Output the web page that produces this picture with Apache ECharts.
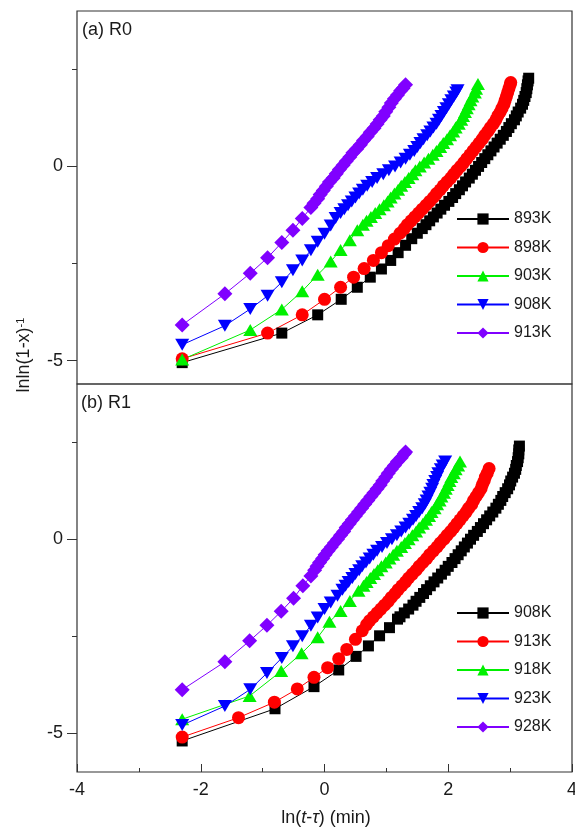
<!DOCTYPE html>
<html>
<head>
<meta charset="utf-8">
<script src="https://cdn.jsdelivr.net/npm/echarts@6/dist/echarts.min.js"></script>
<style>
  html, body { margin: 0; padding: 0; background: #fff; }
  #chart { width: 575px; height: 829px; }
</style>
</head>
<body>
<div id="chart"></div>
<script>
// Avrami-type plots, two panels sharing the x axis: (a) R0 and (b) R1
const R0_NAMES = ['893K', '898K', '903K', '908K', '913K'];
const R1_NAMES = ['908K', '913K', '918K', '923K', '928K'];

// panel (a) R0 — [ln(t-tau), lnln(1-x)^-1]
const R0_893K = [[-2.30,-5.05],[-0.69,-4.29],[-0.11,-3.82],[0.27,-3.42],[0.53,-3.11],[0.74,-2.85],[0.92,-2.64],[1.07,-2.42],[1.19,-2.22],[1.31,-2.03],[1.41,-1.86],[1.50,-1.72],[1.58,-1.60],[1.64,-1.50],[1.70,-1.40],[1.76,-1.30],[1.82,-1.20],[1.88,-1.10],[1.94,-1.00],[2.01,-0.90],[2.07,-0.80],[2.12,-0.70],[2.18,-0.60],[2.23,-0.50],[2.28,-0.40],[2.34,-0.30],[2.39,-0.20],[2.44,-0.10],[2.49,0.00],[2.54,0.10],[2.59,0.20],[2.64,0.30],[2.69,0.40],[2.74,0.50],[2.79,0.60],[2.84,0.70],[2.89,0.80],[2.94,0.90],[2.98,1.00],[3.02,1.10],[3.07,1.20],[3.10,1.30],[3.13,1.40],[3.17,1.50],[3.20,1.60],[3.22,1.70],[3.24,1.80],[3.26,1.90],[3.27,2.00],[3.28,2.10],[3.29,2.20],[3.30,2.27]];
const R0_898K = [[-2.30,-4.95],[-0.92,-4.29],[-0.36,-3.82],[0.00,-3.42],[0.26,-3.11],[0.47,-2.85],[0.64,-2.63],[0.79,-2.42],[0.92,-2.22],[1.03,-2.04],[1.13,-1.87],[1.22,-1.72],[1.29,-1.60],[1.34,-1.50],[1.40,-1.40],[1.46,-1.30],[1.52,-1.20],[1.58,-1.10],[1.64,-1.00],[1.70,-0.90],[1.76,-0.80],[1.81,-0.70],[1.87,-0.60],[1.92,-0.50],[1.98,-0.40],[2.04,-0.30],[2.09,-0.20],[2.14,-0.10],[2.20,0.00],[2.25,0.10],[2.30,0.20],[2.35,0.30],[2.40,0.40],[2.45,0.50],[2.50,0.60],[2.55,0.70],[2.59,0.80],[2.64,0.90],[2.68,1.00],[2.73,1.10],[2.77,1.20],[2.80,1.30],[2.84,1.40],[2.87,1.50],[2.90,1.60],[2.92,1.70],[2.94,1.80],[2.96,1.90],[2.98,2.00],[3.00,2.10],[3.01,2.16]];
const R0_903K = [[-2.30,-4.97],[-1.20,-4.21],[-0.69,-3.68],[-0.36,-3.21],[-0.11,-2.79],[0.10,-2.45],[0.26,-2.15],[0.41,-1.90],[0.53,-1.64],[0.62,-1.50],[0.68,-1.40],[0.75,-1.30],[0.82,-1.20],[0.89,-1.10],[0.96,-1.00],[1.02,-0.90],[1.07,-0.80],[1.13,-0.70],[1.19,-0.60],[1.24,-0.50],[1.30,-0.40],[1.36,-0.30],[1.42,-0.20],[1.47,-0.10],[1.54,0.00],[1.61,0.10],[1.68,0.20],[1.75,0.30],[1.81,0.40],[1.87,0.50],[1.92,0.60],[1.98,0.70],[2.03,0.80],[2.08,0.90],[2.12,1.00],[2.17,1.10],[2.21,1.20],[2.24,1.30],[2.27,1.40],[2.30,1.50],[2.33,1.60],[2.36,1.70],[2.39,1.80],[2.43,1.90],[2.45,2.00],[2.48,2.12]];
const R0_908K = [[-2.30,-4.59],[-1.61,-4.10],[-1.20,-3.67],[-0.92,-3.33],[-0.69,-2.98],[-0.51,-2.67],[-0.36,-2.42],[-0.22,-2.16],[-0.11,-1.94],[0.00,-1.73],[0.10,-1.52],[0.18,-1.33],[0.26,-1.20],[0.32,-1.10],[0.38,-1.00],[0.44,-0.90],[0.50,-0.80],[0.56,-0.70],[0.62,-0.60],[0.69,-0.50],[0.77,-0.40],[0.85,-0.30],[0.95,-0.20],[1.04,-0.10],[1.14,0.00],[1.23,0.10],[1.31,0.20],[1.38,0.30],[1.45,0.40],[1.50,0.50],[1.55,0.60],[1.60,0.70],[1.66,0.80],[1.71,0.90],[1.76,1.00],[1.81,1.10],[1.85,1.20],[1.89,1.30],[1.93,1.40],[1.97,1.50],[2.01,1.60],[2.05,1.70],[2.09,1.80],[2.13,1.90],[2.15,1.96]];
const R0_913K = [[-2.30,-4.08],[-1.61,-3.28],[-1.20,-2.75],[-0.92,-2.35],[-0.69,-1.96],[-0.51,-1.64],[-0.36,-1.34],[-0.22,-1.06],[-0.17,-0.95],[-0.11,-0.83],[-0.07,-0.72],[-0.02,-0.62],[0.03,-0.51],[0.08,-0.40],[0.14,-0.30],[0.19,-0.19],[0.24,-0.08],[0.30,0.03],[0.35,0.13],[0.41,0.24],[0.46,0.35],[0.52,0.45],[0.58,0.56],[0.63,0.67],[0.69,0.77],[0.74,0.88],[0.80,0.98],[0.85,1.09],[0.90,1.20],[0.95,1.30],[0.99,1.41],[1.04,1.52],[1.08,1.63],[1.13,1.74],[1.18,1.84],[1.23,1.95],[1.27,2.01],[1.31,2.10]];

// panel (b) R1
const R1_908K = [[-2.30,-5.20],[-0.80,-4.37],[-0.17,-3.80],[0.23,-3.37],[0.51,-3.02],[0.71,-2.75],[0.89,-2.49],[1.05,-2.28],[1.18,-2.06],[1.22,-2.00],[1.29,-1.90],[1.36,-1.80],[1.43,-1.70],[1.48,-1.60],[1.54,-1.50],[1.60,-1.40],[1.65,-1.30],[1.71,-1.20],[1.77,-1.10],[1.83,-1.00],[1.89,-0.90],[1.95,-0.80],[2.00,-0.70],[2.06,-0.60],[2.11,-0.50],[2.16,-0.40],[2.21,-0.30],[2.26,-0.20],[2.31,-0.10],[2.36,0.00],[2.41,0.10],[2.47,0.20],[2.52,0.30],[2.57,0.40],[2.62,0.50],[2.67,0.60],[2.72,0.70],[2.77,0.80],[2.81,0.90],[2.85,1.00],[2.88,1.10],[2.92,1.20],[2.96,1.30],[2.99,1.40],[3.01,1.50],[3.04,1.60],[3.07,1.70],[3.09,1.80],[3.10,1.90],[3.12,2.00],[3.13,2.10],[3.14,2.20],[3.14,2.30],[3.15,2.40]];
const R1_913K = [[-2.30,-5.10],[-1.39,-4.60],[-0.81,-4.20],[-0.44,-3.86],[-0.17,-3.56],[0.05,-3.31],[0.23,-3.08],[0.36,-2.84],[0.50,-2.58],[0.61,-2.36],[0.68,-2.20],[0.73,-2.10],[0.79,-2.00],[0.85,-1.90],[0.91,-1.80],[0.97,-1.70],[1.03,-1.60],[1.08,-1.50],[1.14,-1.40],[1.19,-1.30],[1.25,-1.20],[1.31,-1.10],[1.36,-1.00],[1.42,-0.90],[1.48,-0.80],[1.53,-0.70],[1.59,-0.60],[1.65,-0.50],[1.70,-0.40],[1.76,-0.30],[1.82,-0.20],[1.87,-0.10],[1.93,0.00],[1.98,0.10],[2.04,0.20],[2.09,0.30],[2.14,0.40],[2.19,0.50],[2.24,0.60],[2.29,0.70],[2.33,0.80],[2.38,0.90],[2.41,1.00],[2.45,1.10],[2.49,1.20],[2.53,1.30],[2.55,1.40],[2.58,1.50],[2.60,1.60],[2.63,1.70],[2.66,1.82]];
const R1_918K = [[-2.30,-4.64],[-1.21,-4.04],[-0.70,-3.40],[-0.37,-2.94],[-0.11,-2.53],[0.08,-2.13],[0.26,-1.85],[0.41,-1.59],[0.55,-1.33],[0.63,-1.20],[0.68,-1.10],[0.74,-1.00],[0.80,-0.90],[0.86,-0.80],[0.92,-0.70],[0.99,-0.60],[1.05,-0.50],[1.11,-0.40],[1.17,-0.30],[1.24,-0.20],[1.30,-0.10],[1.36,0.00],[1.42,0.10],[1.48,0.20],[1.53,0.30],[1.59,0.40],[1.64,0.50],[1.69,0.60],[1.73,0.70],[1.78,0.80],[1.82,0.90],[1.86,1.00],[1.89,1.10],[1.93,1.20],[1.96,1.30],[1.99,1.40],[2.02,1.50],[2.05,1.60],[2.09,1.70],[2.12,1.80],[2.16,1.90],[2.19,2.00]];
const R1_923K = [[-2.30,-4.79],[-1.61,-4.30],[-1.20,-3.87],[-0.93,-3.45],[-0.69,-3.06],[-0.51,-2.76],[-0.36,-2.50],[-0.22,-2.23],[-0.11,-2.02],[0.00,-1.80],[0.10,-1.63],[0.21,-1.46],[0.29,-1.30],[0.34,-1.20],[0.39,-1.10],[0.45,-1.00],[0.50,-0.90],[0.56,-0.80],[0.61,-0.70],[0.67,-0.60],[0.73,-0.50],[0.79,-0.40],[0.85,-0.30],[0.93,-0.20],[1.01,-0.10],[1.09,0.00],[1.17,0.10],[1.24,0.20],[1.31,0.30],[1.37,0.40],[1.43,0.50],[1.48,0.60],[1.53,0.70],[1.58,0.80],[1.62,0.90],[1.65,1.00],[1.68,1.10],[1.71,1.20],[1.74,1.30],[1.76,1.40],[1.79,1.50],[1.82,1.60],[1.84,1.70],[1.88,1.80],[1.91,1.90],[1.95,2.00]];
const R1_928K = [[-2.30,-3.88],[-1.61,-3.16],[-1.21,-2.62],[-0.93,-2.22],[-0.70,-1.86],[-0.50,-1.52],[-0.35,-1.20],[-0.22,-0.95],[-0.16,-0.80],[-0.12,-0.70],[-0.08,-0.60],[-0.03,-0.50],[0.01,-0.40],[0.06,-0.30],[0.11,-0.20],[0.16,-0.10],[0.21,0.00],[0.26,0.10],[0.31,0.20],[0.35,0.30],[0.40,0.40],[0.45,0.50],[0.50,0.60],[0.55,0.70],[0.60,0.80],[0.65,0.90],[0.70,1.00],[0.75,1.10],[0.80,1.20],[0.85,1.30],[0.90,1.40],[0.94,1.50],[0.99,1.60],[1.03,1.70],[1.08,1.80],[1.13,1.90],[1.18,2.00],[1.24,2.10],[1.29,2.20],[1.31,2.25]];

const X_LABELS = [-4, -2, 0, 2, 4];
const Y_LABELS = [-5, 0];
const Y_MINOR = [-2.5, 2.5];

const COLORS = ['#000000', '#ff0000', '#00f000', '#0000ff', '#8000ff'];
const MARKERS = [
  { symbol: 'rect', size: 11, rotate: 0 },
  { symbol: 'circle', size: 13, rotate: 0 },
  { symbol: 'triangle', size: [14, 12], rotate: 0 },
  { symbol: 'triangle', size: [14, 12], rotate: 180 },
  { symbol: 'diamond', size: 15, rotate: 0 },
];

const FONT = 'Liberation Sans, Arial, sans-serif';
const TEXT = '#1a1a1a';
const AXIS = '#333';

const panels = [
  { tag: 'a', names: R0_NAMES, data: [R0_893K, R0_898K, R0_903K, R0_908K, R0_913K], yMin: -5.6 },
  { tag: 'b', names: R1_NAMES, data: [R1_908K, R1_913K, R1_918K, R1_923K, R1_928K], yMin: -6 },
];

const series = [];
panels.forEach((p, pi) => {
  p.data.forEach((pts, i) => {
    series.push({
      name: p.names[i] + ' ' + p.tag,
      type: 'line',
      xAxisIndex: pi,
      yAxisIndex: pi * 2,
      data: pts,
      symbol: MARKERS[i].symbol,
      symbolSize: MARKERS[i].size,
      symbolRotate: MARKERS[i].rotate,
      showAllSymbol: true,
      color: COLORS[i],
      itemStyle: { color: COLORS[i], borderWidth: 0 },
      lineStyle: { color: COLORS[i], width: 1 },
      emphasis: { disabled: true },
    });
  });
});

const majorY = (gi, min) => ({
  type: 'value', gridIndex: gi, min: min, max: 4, position: 'left',
  axisLine: { show: false, onZero: false }, splitLine: { show: false },
  axisTick: { show: true, customValues: Y_LABELS, length: 10, lineStyle: { color: AXIS, width: 1 } },
  axisLabel: { customValues: Y_LABELS, margin: 14, fontSize: 18, fontFamily: FONT, color: TEXT },
});
const minorY = (gi, min) => ({
  type: 'value', gridIndex: gi, min: min, max: 4, position: 'left',
  axisLine: { show: false, onZero: false }, splitLine: { show: false },
  axisTick: { show: true, customValues: Y_MINOR, length: 5, lineStyle: { color: AXIS, width: 1 } },
  axisLabel: { show: false },
});

const legendBase = (names, tag, top) => ({
  data: names.map((n) => n + ' ' + tag),
  orient: 'vertical',
  left: 451,
  top: top,
  itemWidth: 52,
  itemHeight: 14,
  itemGap: 12.5,
  selectedMode: false,
  formatter: (n) => n.split(' ')[0],
  textStyle: { fontSize: 16, lineHeight: 16, fontFamily: FONT, color: TEXT },
});

const chart = echarts.init(document.getElementById('chart'), null, { renderer: 'canvas' });
chart.setOption({
  animation: false,
  backgroundColor: '#fff',
  grid: [
    { left: 77, top: 11, width: 495, height: 373, show: true, borderColor: AXIS, borderWidth: 1.2, outerBoundsMode: 'none', containLabel: false },
    { left: 77, top: 384, width: 495, height: 388, show: true, borderColor: AXIS, borderWidth: 1.2, outerBoundsMode: 'none', containLabel: false },
  ],
  xAxis: [
    { type: 'value', gridIndex: 0, min: -4, max: 4, show: false, axisLine: { onZero: false } },
    {
      type: 'value', gridIndex: 1, min: -4, max: 4, interval: 2, position: 'bottom',
      axisLine: { show: false, onZero: false }, splitLine: { show: false },
      axisTick: { inside: true, length: 8, lineStyle: { color: AXIS, width: 1 } },
      minorTick: { show: true, splitNumber: 2, length: 4, lineStyle: { color: AXIS, width: 1 } },
      axisLabel: { customValues: X_LABELS, margin: 9, fontSize: 18, fontFamily: FONT, color: TEXT },
    },
  ],
  yAxis: [majorY(0, -5.6), minorY(0, -5.6), majorY(1, -6), minorY(1, -6)],
  legend: [legendBase(R0_NAMES, 'a', 206), legendBase(R1_NAMES, 'b', 600)],
  series: series,
  graphic: [
    {
      type: 'text', left: 82, top: 21,
      style: { text: '(a) R0', fontSize: 18, fontFamily: FONT, fill: TEXT },
    },
    {
      type: 'text', left: 81, top: 394,
      style: { text: '(b) R1', fontSize: 18, fontFamily: FONT, fill: TEXT },
    },
    {
      type: 'text', x: 326, y: 818,
      style: {
        text: '{n|ln(}{i|t}{n|-}{i|τ}{n|) (min)}',
        align: 'center', verticalAlign: 'middle',
        rich: {
          n: { fontSize: 18, fontFamily: FONT, fill: TEXT },
          i: { fontSize: 18, fontFamily: FONT, fontStyle: 'italic', fill: TEXT },
        },
      },
    },
    {
      type: 'text', x: 24, y: 355, rotation: Math.PI / 2,
      style: {
        text: '{n|lnln(1-x)}{s|-1}',
        align: 'center', verticalAlign: 'middle',
        rich: {
          n: { fontSize: 18, fontFamily: FONT, fill: TEXT },
          s: { fontSize: 11, fontFamily: FONT, fill: TEXT, verticalAlign: 'top' },
        },
      },
    },
  ],
});
</script>
</body>
</html>
